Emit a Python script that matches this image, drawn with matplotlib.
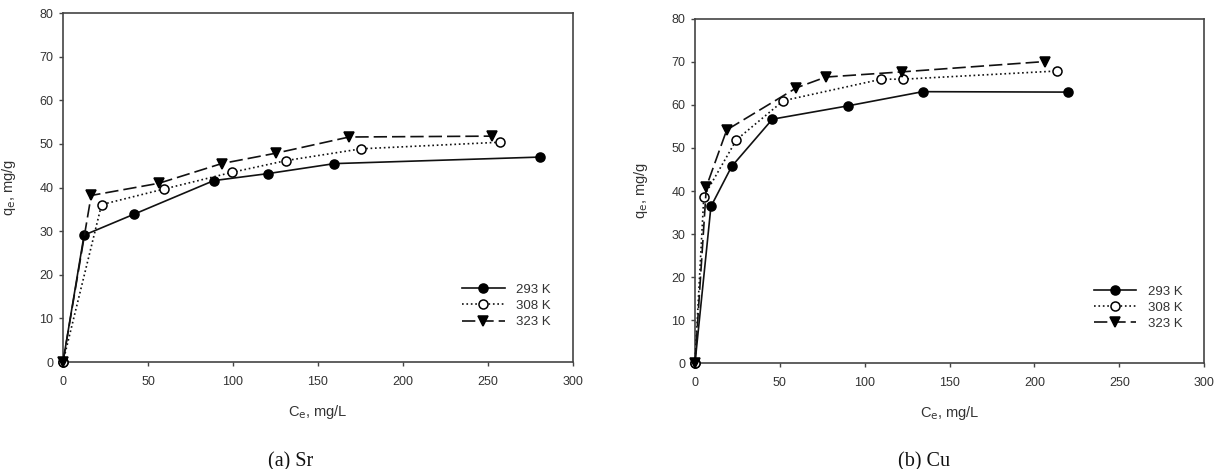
import numpy as np
import matplotlib.pyplot as plt

plt.rcParams['font.family'] = ['Liberation Sans', 'DejaVu Sans']

temps = ['293 K', '308 K', '323 K']

# (a) Sr
sr_x = [
    [0, 12.4, 41.8, 88.7, 120.4, 159.7, 280.7],
    [0, 22.7, 59.7, 99.4, 131.3, 175.6, 256.9],
    [0, 16.6, 56.5, 93.3, 125.4, 168.3, 252.3],
]
sr_y = [
    [0, 29.1, 33.9, 41.6, 43.2, 45.5, 47.0],
    [0, 36.1, 39.7, 43.5, 46.2, 48.9, 50.4],
    [0, 38.2, 41.0, 45.5, 47.9, 51.6, 51.8],
]

# (b) Cu
cu_x = [
    [0, 9.4, 21.6, 45.6, 90.1, 134.2, 219.8],
    [0, 5.2, 24.4, 52.1, 109.8, 122.8, 213.1],
    [0, 6.7, 18.7, 59.8, 77.1, 121.8, 206.0],
]
cu_y = [
    [0, 36.4, 45.7, 56.7, 59.8, 63.1, 63.0],
    [0, 38.7, 51.9, 61.0, 66.0, 66.0, 67.9],
    [0, 41.0, 54.2, 64.0, 66.5, 67.7, 70.1],
]

styles = [
    dict(ls='-', marker='o', mfc='black'),
    dict(ls=':', marker='o', mfc='white'),
    dict(ls=(0, (8, 3)), marker='v', mfc='black'),
]

txt = '#333333'
fig = plt.figure(figsize=(12.18, 4.69), dpi=100)
ax1 = fig.add_axes([0.0517, 0.228, 0.4187, 0.744])
ax2 = fig.add_axes([0.5706, 0.226, 0.418, 0.7335])

for ax, xs, ys in [(ax1, sr_x, sr_y), (ax2, cu_x, cu_y)]:
    for x, y, lab, st in zip(xs, ys, temps, styles):
        ax.plot(x, y, color='#111111', lw=1.2, ms=6.5, mec='black', mew=1.1,
                label=lab, clip_on=False, zorder=3, **st)
    ax.set_xlim(0, 300)
    ax.set_ylim(0, 80)
    ax.set_xticks(np.arange(0, 301, 50))
    ax.set_yticks(np.arange(0, 81, 10))
    ax.tick_params(direction='out', length=3, width=1, labelsize=9,
                   colors='#444444', labelcolor=txt)
    ax.tick_params(axis='x', pad=7)
    ax.tick_params(axis='y', pad=4)
    for s in ax.spines.values():
        s.set_color('#444444')
        s.set_linewidth(1.2)
    ax.set_xlabel(r'C$_\mathrm{e}$, mg/L', fontsize=10.5, color=txt, labelpad=11)
    ax.set_ylabel(r'q$_\mathrm{e}$, mg/g', fontsize=10.5, color=txt, labelpad=15)
    leg = ax.legend(loc='center left', bbox_to_anchor=(0.783, 0.161),
                    frameon=False, fontsize=9.5, handlelength=3.2,
                    handletextpad=0.9, labelspacing=0.3, borderpad=0,
                    borderaxespad=0)
    for t in leg.get_texts():
        t.set_color(txt)

serif = ['Liberation Serif', 'DejaVu Serif']
fig.text(291 / 1218, 0.006, '(a) Sr', ha='center', va='baseline',
         fontsize=14.5, family=serif, color='#111111')
fig.text(924 / 1218, 0.006, '(b) Cu', ha='center', va='baseline',
         fontsize=14.5, family=serif, color='#111111')

plt.savefig('out.png', dpi=100)
